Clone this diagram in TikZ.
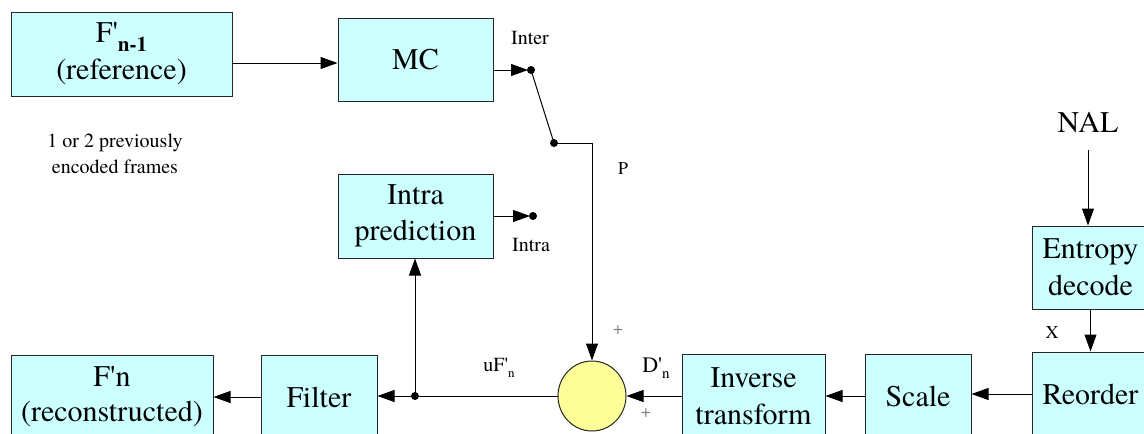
\documentclass[tikz,border=0pt]{standalone}
\usepackage{fontspec}
\setmainfont{texgyretermes-regular.otf}[BoldFont=texgyretermes-bold.otf]
\newfontfamily\primefont{texgyretermes-regular.otf}[Ligatures=TeXOff]
\usetikzlibrary{arrows.meta,shapes.geometric}
\definecolor{boxfill}{HTML}{CCFFFF}
\definecolor{sumfill}{HTML}{FFFF99}
\definecolor{plusgray}{HTML}{808080}
\tikzset{
  blk/.style={draw=black!85, fill=boxfill, line width=1pt, inner sep=0pt, align=center,
              font=\fontsize{30}{36}\selectfont},
  sumnode/.style={draw=black!85, fill=sumfill, line width=1pt, ellipse, inner sep=0pt},
  arr/.style={-{Triangle[length=17pt,width=12pt]}, line width=1pt},
  wire/.style={line width=1pt},
  lbl/.style={inner sep=0pt, align=center, font=\fontsize{20}{26}\selectfont},
  slbl/.style={inner sep=0pt, font=\fontsize{18}{20}\selectfont},
  dotc/.style={fill=black}
}
\newcommand{\subtxt}[2]{\raisebox{-0.3em}{\fontsize{#1}{#1}\selectfont #2}}
\newcommand{\prm}{{\primefont '}}
\begin{document}
\begin{tikzpicture}[x=1pt,y=-1pt]
\useasboundingbox (0,0) rectangle (1144,434);
\clip (0,0) rectangle (1144,434);

% boxes
\node[blk, minimum width=221pt, minimum height=84pt, font=\fontsize{30}{37}\selectfont] (ref) at (121.5,54)
  {F\prm\subtxt{21}{\bfseries n-1}\\(reference)};
\node[blk, minimum width=155pt, minimum height=83pt] (mc) at (415.5,59.5) {MC};
\node[blk, minimum width=155pt, minimum height=84pt] (intra) at (415.5,216) {Intra\\prediction};
\node[blk, minimum width=202pt, minimum height=84pt, font=\fontsize{30}{35}\selectfont] (recon) at (112,397) {F\prm n\\(reconstructed)};
\node[blk, minimum width=116pt, minimum height=84pt] (filter) at (319,397) {Filter};
\node[blk, minimum width=143pt, minimum height=84pt, font=\fontsize{30}{37}\selectfont] (inv) at (753.5,396) {Inverse\\transform};
\node[blk, minimum width=106pt, minimum height=84pt] (scale) at (918,396) {Scale};
\node[blk, minimum width=117pt, minimum height=84pt] (reorder) at (1090.5,394) {Reorder};
\node[blk, minimum width=117pt, minimum height=83pt, font=\fontsize{30}{37}\selectfont] (entropy) at (1090.5,267.5) {Entropy\\decode};
\node[sumnode, minimum width=68pt, minimum height=70pt] (circ) at (592,396) {};

% labels
\node[lbl] (nal) at (1088,123) {\fontsize{30}{36}\selectfont NAL};
\node[lbl] (prev) at (115,154) {1 or 2 previously\\encoded frames};
\node[lbl] (linter) at (530,38) {Inter};
\node[lbl] (lintra) at (531,245) {Intra};
\node[slbl] (lp) at (623,169) {P};
\node[slbl] (lx) at (1052,333) {X};
\node[slbl, text=plusgray] (plus1) at (618,330) {+};
\node[slbl, text=plusgray] (plus2) at (646,413) {+};
\node[lbl] (luf) at (499,368) {uF\prm\subtxt{13}{n}};
\node[lbl] (ldn) at (656,368) {\fontsize{22}{24}\selectfont D\prm\subtxt{15}{n}};

% switch points
\coordinate (sw1) at (531,70);
\coordinate (sw2) at (554,143);
\coordinate (sw3) at (533,216);
\coordinate (jn) at (415,396);

% connectors
\draw[arr] ([yshift=-9pt]ref.east) -- ([yshift=-9pt]ref.east -| mc.west);
\draw[arr, shorten >=3pt] (mc.east |- sw1) -- (sw1);
\draw[wire] (sw1) -- (sw2);
\draw[arr] (sw2) -| (circ.north);
\draw[arr, shorten >=3pt] (intra.east) -- (sw3);
\draw[arr, shorten <=17pt] (nal.south) -- (nal.south |- entropy.north);
\draw[arr] (entropy.south) -- (reorder.north);
\draw[arr] (reorder.west) -- (reorder.west -| scale.east);
\draw[arr] (scale.west) -- (scale.west -| inv.east);
\draw[arr] (inv.west) -- (circ.east);
\draw[arr] (circ.west) -- (circ.west -| filter.east);
\draw[arr] (jn) -- (jn |- intra.south);
\draw[arr] (filter.west) -- (filter.west -| recon.east);

\fill[dotc] (sw1) circle (4pt);
\fill[dotc] (sw2) circle (4pt);
\fill[dotc] (sw3) circle (4pt);
\fill[dotc] (jn) circle (4pt);
\end{tikzpicture}
\end{document}
